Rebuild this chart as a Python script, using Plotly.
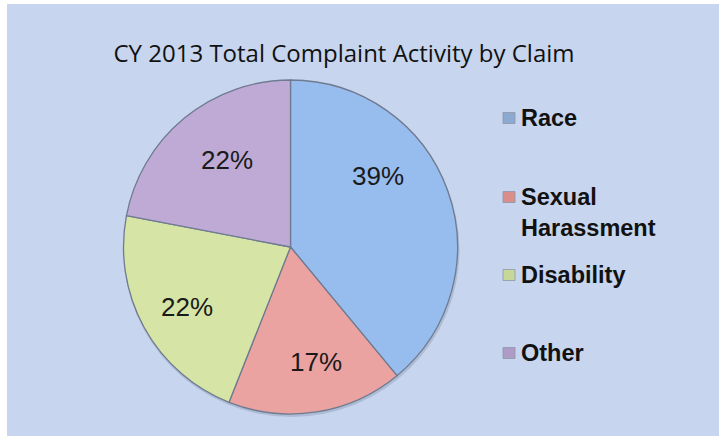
import plotly.graph_objects as go

# Complaint activity by claim type, calendar year 2013
labels = ["Race", "Sexual Harassment", "Disability", "Other"]
shares = [39, 17, 22, 22]
colors = ["#97BCEE", "#EBA3A1", "#D6E5A6", "#BFAAD5"]
legend_colors = ["#8EA9D0", "#D98E8C", "#C6D79A", "#AE9BC6"]
legend_text = ["Race", "Sexual<br>Harassment", "Disability", "Other"]

W, H = 719, 436

# Pixel positions of the percentage labels inside each slice
label_pos_px = [(378, 176), (316, 362), (187, 307), (227, 160)]

fig = go.Figure()

fig.add_trace(go.Pie(
    labels=labels,
    values=shares,
    sort=False,
    direction="clockwise",
    rotation=0,
    marker=dict(colors=colors, line=dict(color="#6E7B90", width=1.3)),
    textinfo="none",
    domain=dict(x=[(290.5 - 167) / W, (290.5 + 167) / W],
                y=[1 - 414 / H, 1 - 80 / H]),
    showlegend=False,
    hoverinfo="label+percent",
))

# Panel background with the white strip on the top and left
shapes = [
    dict(type="rect", xref="paper", yref="paper",
         x0=7 / W, x1=1, y0=0, y1=1 - 4 / H,
         fillcolor="#C7D5EE", line=dict(width=0), layer="below"),
    # soft drop shadow under the pie
    dict(type="circle", xref="paper", yref="paper",
         x0=(290.5 - 167) / W, x1=(290.5 + 169) / W,
         y0=1 - 417 / H, y1=1 - 83 / H,
         fillcolor="rgba(60,70,100,0.18)", line=dict(width=0), layer="below"),
]

annotations = []

# Percentage labels for the slices
for v, (px, py) in zip(shares, label_pos_px):
    annotations.append(dict(
        xref="paper", yref="paper", x=px / W, y=1 - py / H,
        xanchor="center", yanchor="middle", showarrow=False,
        text=f"{v}%",
        font=dict(family="Liberation Sans, Arial", size=26, color="#1A1A1A"),
    ))

# Hand-placed legend: small squares with bold labels
legend_y = [118, 197, 275, 353]
for txt, col, yc in zip(legend_text, legend_colors, legend_y):
    shapes.append(dict(type="rect", xref="paper", yref="paper",
                       x0=503 / W, x1=515 / W,
                       y0=1 - (yc + 5.5) / H, y1=1 - (yc - 5.5) / H,
                       fillcolor=col, line=dict(color="#8C97AA", width=0.8)))
    annotations.append(dict(
        xref="paper", yref="paper", x=519 / W, y=1 - (yc - 15) / H,
        xanchor="left", yanchor="top", align="left", showarrow=False,
        text=f"<b>{txt}</b>",
        font=dict(family="Liberation Sans, Arial", size=23.5, color="#111111"),
    ))

fig.update_layout(
    width=W, height=H,
    margin=dict(l=0, r=0, t=0, b=0),
    paper_bgcolor="white",
    plot_bgcolor="white",
    title=dict(text="CY 2013 Total Complaint Activity by Claim",
               x=344 / W, xanchor="center", xref="paper",
               y=1 - 54 / H, yanchor="middle", yref="paper",
               font=dict(family="Open Sans", size=24, color="#111111")),
    shapes=shapes,
    annotations=annotations,
)

fig.write_html("out.html")
